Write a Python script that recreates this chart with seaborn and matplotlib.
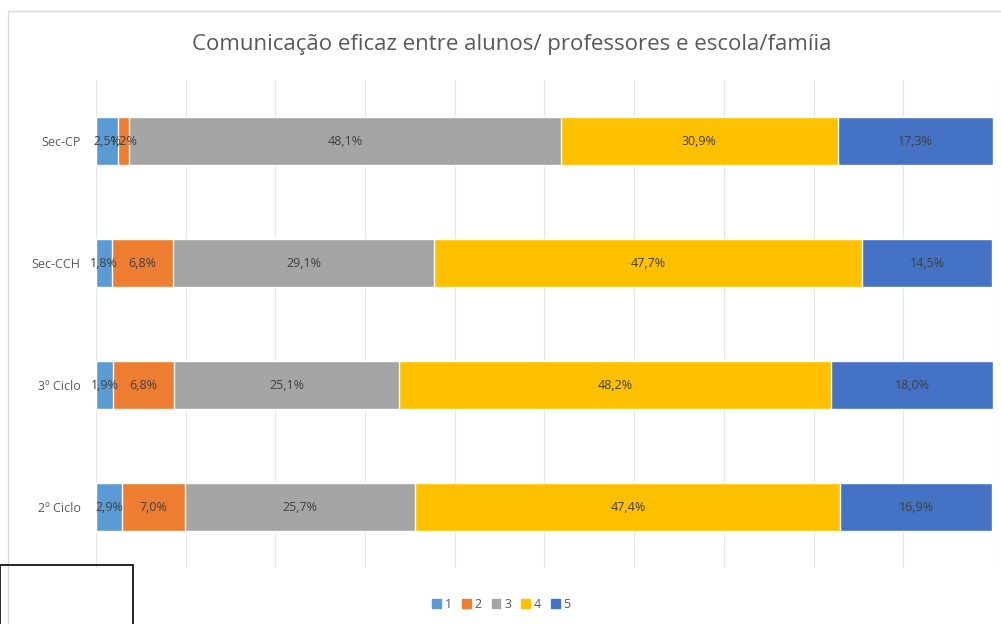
import numpy as np
import pandas as pd
import matplotlib.pyplot as plt
import matplotlib.patches as mpatches
import seaborn as sns

# ── Data ───────────────────────────────────────────────────
categories = ["Sec-CP", "Sec-CCH", "3º Ciclo", "2º Ciclo"]
levels     = ["1", "2", "3", "4", "5"]
level_1 = [2.5, 1.8, 1.9, 2.9]
level_2 = [1.2, 6.8, 6.8, 7.0]
level_3 = [48.1, 29.1, 25.1, 25.7]
level_4 = [30.9, 47.7, 48.2, 47.4]
level_5 = [17.3, 14.5, 18.0, 16.9]
colors  = ["#5B9BD5", "#ED7D31", "#A5A5A5", "#FFC000", "#4472C4"]

df = pd.DataFrame({"cat": categories, "1": level_1, "2": level_2,
                   "3": level_3, "4": level_4, "5": level_5})
cum = df[levels].cumsum(axis=1)

sns.set_theme(style="white")
plt.rcParams["font.family"] = ["Open Sans", "DejaVu Sans"]

fig = plt.figure(figsize=(10.01, 6.24), dpi=100)
ax = fig.add_axes([0.0959, 0.0897, 0.896, 0.782])

# stacked bars: draw cumulative totals from the outermost segment inwards
for lvl, col in reversed(list(zip(levels, colors))):
    sns.barplot(x=cum[lvl], y=df["cat"], orient="h", color=col, width=0.4,
                saturation=1, ax=ax, zorder=2)

# data labels
for i, row in df.iterrows():
    left = 0
    for lvl in levels:
        v = row[lvl]
        ax.text(left + v / 2, i, f"{v:.1f}%".replace(".", ","), ha="center",
                va="center", fontsize=9, color="#404040", zorder=3)
        left += v

ax.set_xlim(0, 100)
ax.set_ylim(3.5, -0.5)
ax.set_xticks(np.arange(0, 101, 10))
ax.set_xticklabels([])
ax.tick_params(axis="x", length=0)
ax.tick_params(axis="y", length=0, labelsize=9, labelcolor="#595959", pad=11)
ax.grid(axis="x", color="#e6e6e6", linewidth=0.8, zorder=0)
ax.set_axisbelow(True)
ax.set_xlabel("")
ax.set_ylabel("")
for s in ax.spines.values():
    s.set_visible(False)

fig.text(0.511, 0.928, "Comunicação eficaz entre alunos/ professores e escola/famíia",
         ha="center", va="center", fontsize=16, color="#595959")

handles = [mpatches.Patch(color=c, label=l) for l, c in zip(levels, colors)]
fig.legend(handles=handles, loc="center", bbox_to_anchor=(0.501, 0.031), ncol=5,
           frameon=False, fontsize=9, handlelength=0.7, handleheight=0.7,
           handletextpad=0.3, columnspacing=0.8, labelcolor="#595959")

# chart frame and stray box
fig.add_artist(mpatches.Rectangle((0.008, -0.01), 1.0, 0.992, transform=fig.transFigure,
                                  fill=False, edgecolor="#d9d9d9", linewidth=1))
fig.add_artist(mpatches.Rectangle((0.0, -0.01), 0.133, 0.105, transform=fig.transFigure,
                                  fill=False, edgecolor="black", linewidth=1.2))

fig.savefig("out.png", dpi=100, facecolor="white")
